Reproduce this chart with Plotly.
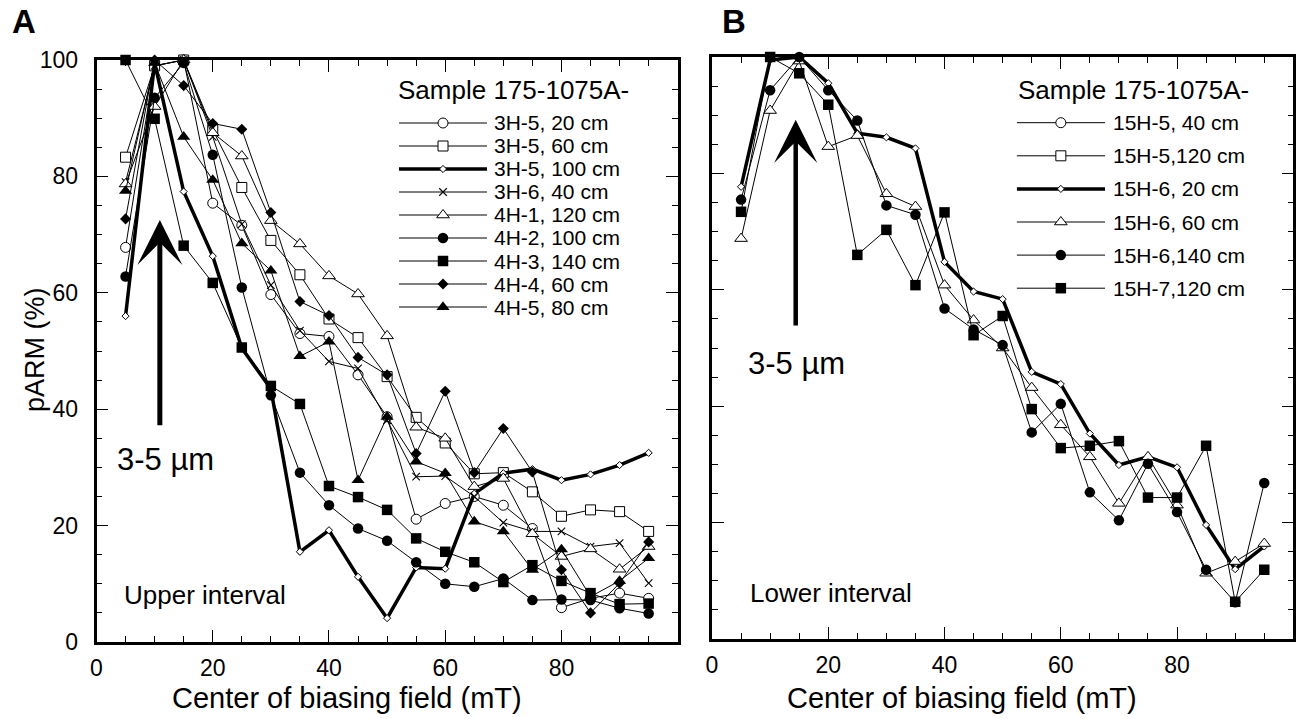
import plotly.graph_objects as go

# ---------------- data ----------------
field = [5, 10, 15, 20, 25, 30, 35, 40, 45, 50, 55, 60, 65, 70, 75, 80, 85, 90, 95]

# Panel A (upper interval), Sample 175-1075A-
a_names = ["3H-5, 20 cm", "3H-5, 60 cm", "3H-5, 100 cm", "3H-6, 40 cm", "4H-1, 120 cm",
           "4H-2, 100 cm", "4H-3, 140 cm", "4H-4, 60 cm", "4H-5, 80 cm"]
a_3H5_20 = [67.8, 99, 100, 75.4, 71.6, 59.7, 53.0, 52.5, 45.9, 38.7, 21.1, 23.8, 25.0, 23.5, 19.5, 5.9, 7.5, 8.4, 7.5]
a_3H5_60 = [83.3, 99, 100, 88.0, 78.1, 69.0, 63.1, 55.5, 52.3, 45.6, 38.6, 34.2, 28.9, 29.1, 25.8, 21.6, 22.7, 22.4, 19.0]
a_3H5_100 = [56.0, 99.5, 77.4, 66.3, 50.5, 43.5, 15.5, 19.2, 11.2, 4.1, 12.8, 12.6, 25.5, 29.0, 29.7, 27.8, 28.8, 30.4, 32.5]
a_3H6_40 = [79.0, 99, 100, 86.8, 71.8, 61.3, 53.5, 48.2, 47.0, 38.1, 28.4, 28.5, 25.0, 20.5, 19.0, 19.0, 16.4, 17.0, 10.1]
a_4H1_120 = [78.7, 92.0, 100, 87.5, 83.5, 72.4, 68.4, 62.9, 59.8, 52.6, 36.9, 35.0, 26.7, 28.1, 18.6, 14.7, 16.0, 12.5, 16.4]
a_4H2_100 = [62.8, 93.5, 99.5, 83.7, 60.9, 42.4, 29.1, 23.5, 19.5, 17.4, 13.7, 10.0, 9.5, 10.9, 7.2, 7.3, 7.2, 5.8, 4.9]
a_4H3_140 = [100, 89.9, 68.1, 61.7, 50.6, 44.0, 40.9, 26.8, 24.9, 22.7, 17.8, 15.5, 13.7, 10.3, 13.2, 10.5, 8.4, 6.5, 6.6]
a_4H4_60 = [72.7, 100, 95.6, 89.1, 88.1, 73.8, 58.5, 56.1, 48.9, 45.9, 32.4, 43.1, 29.1, 36.7, 29.2, 12.4, 5.0, 10.1, 17.2]
a_4H5_80 = [77.5, 99.5, 86.8, 79.4, 68.5, 63.8, 49.1, 51.6, 27.8, 38.7, 31.0, 29.0, 20.7, 19.0, 12.4, 15.9, 7.8, 10.5, 14.4]

# Panel B (lower interval)
b_names = ["15H-5, 40 cm", "15H-5,120 cm", "15H-6, 20 cm", "15H-6, 60 cm", "15H-6,140 cm", "15H-7,120 cm"]
b_15H5_40 = []    # listed in the legend, no points visible in the plot
b_15H5_120 = []   # listed in the legend, no points visible in the plot
b_15H6_20 = [77.7, 99.5, 100, 95.5, 86.9, 86.2, 84.3, 64.8, 59.7, 58.4, 45.9, 43.8, 35.3, 29.9, 31.3, 29.5, 19.6, 12.0, 15.9]
b_15H6_60 = [68.8, 90.8, 99.3, 84.6, 86.5, 76.5, 74.3, 60.8, 54.8, 50.0, 43.2, 36.8, 31.3, 23.3, 31.3, 23.0, 11.3, 13.3, 16.4]
b_15H6_140 = [75.5, 94.3, 100, 94.3, 89.1, 74.5, 72.9, 56.8, 53.2, 50.5, 35.5, 40.4, 25.2, 20.4, 30.1, 21.8, 11.9, 6.3, 26.8]
b_15H7_120 = [73.4, 100, 97.2, 91.8, 66.0, 70.3, 60.8, 73.3, 52.2, 55.5, 39.5, 32.8, 33.2, 34.0, 24.3, 24.3, 33.2, 6.4, 11.9]

x_ticks = [0, 20, 40, 60, 80]
y_ticks = [0, 20, 40, 60, 80, 100]
legend_title = "Sample 175-1075A-"
x_title = "Center of biasing field (mT)"
y_title = "pARM (%)"

FONT = "Liberation Sans, Arial, Helvetica, sans-serif"

OPEN_C = dict(symbol="circle", color="white", size=10, line=dict(color="black", width=1))
OPEN_S = dict(symbol="square", color="white", size=10, line=dict(color="black", width=1))
OPEN_D = dict(symbol="diamond", color="white", size=5.5, line=dict(color="black", width=1))
XMARK = dict(symbol="x-thin-open", color="black", size=7.5, line=dict(color="black", width=1.1))
OPEN_T = dict(symbol="triangle-up", color="white", size=11, line=dict(color="black", width=1))
FILL_C = dict(symbol="circle", color="black", size=10.5, line=dict(color="black", width=0))
FILL_S = dict(symbol="square", color="black", size=10.5, line=dict(color="black", width=0))
FILL_D = dict(symbol="diamond", color="black", size=8.5, line=dict(color="black", width=0))
FILL_T = dict(symbol="triangle-up", color="black", size=11.5, line=dict(color="black", width=0))

W, H = 1301, 719


def px_x(p):
    return p / W


def px_y(p):
    return 1 - p / H


fig = go.Figure()

a_series = [a_3H5_20, a_3H5_60, a_3H5_100, a_3H6_40, a_4H1_120, a_4H2_100, a_4H3_140, a_4H4_60, a_4H5_80]
a_markers = [OPEN_C, OPEN_S, OPEN_D, XMARK, OPEN_T, FILL_C, FILL_S, FILL_D, FILL_T]
a_widths = [1, 1, 3.5, 1, 1, 1, 1, 1, 1]
for name, ys, mk, lw in zip(a_names, a_series, a_markers, a_widths):
    fig.add_trace(go.Scatter(x=field[:len(ys)], y=ys, mode="lines+markers", name=name,
                             line=dict(color="black", width=lw), marker=mk,
                             xaxis="x", yaxis="y", showlegend=False, cliponaxis=False))

b_series = [b_15H5_40, b_15H5_120, b_15H6_20, b_15H6_60, b_15H6_140, b_15H7_120]
b_markers = [OPEN_C, OPEN_S, OPEN_D, OPEN_T, FILL_C, FILL_S]
b_widths = [1, 1, 3.5, 1, 1, 1]
for name, ys, mk, lw in zip(b_names, b_series, b_markers, b_widths):
    if len(ys) == 0:
        continue
    fig.add_trace(go.Scatter(x=field[:len(ys)], y=ys, mode="lines+markers", name=name,
                             line=dict(color="black", width=lw), marker=mk,
                             xaxis="x2", yaxis="y2", showlegend=False, cliponaxis=False))


# ---------- legend keys drawn in their own hidden axes (x3/y3 for A, x4/y4 for B) ----------
def add_legend_keys(names, markers, widths, xa, ya):
    for i, (name, mk, lw) in enumerate(zip(names, markers, widths)):
        fig.add_trace(go.Scatter(x=[0, 1], y=[i, i], mode="lines", line=dict(color="black", width=lw),
                                 xaxis=xa, yaxis=ya, showlegend=False, hoverinfo="skip", cliponaxis=False))
        fig.add_trace(go.Scatter(x=[0.5], y=[i], mode="markers", marker=mk, name=name,
                                 xaxis=xa, yaxis=ya, showlegend=False, hoverinfo="skip", cliponaxis=False))


add_legend_keys(a_names, a_markers, a_widths, "x3", "y3")
add_legend_keys(b_names, b_markers, b_widths, "x4", "y4")

axis_common = dict(showgrid=False, zeroline=False, showline=True, linecolor="black", linewidth=2.5,
                   mirror="allticks", ticks="inside", ticklen=12, tickwidth=1.3, tickcolor="black",
                   automargin=False,
                   minor=dict(ticks="inside", ticklen=6, tickwidth=1.3, tickcolor="black", dtick=5, tick0=0),
                   tickfont=dict(family=FONT, size=23, color="black"))

hidden = dict(visible=False, showgrid=False, zeroline=False, automargin=False, fixedrange=True)

# legend A geometry: key line px 399..487, rows at py 123 + 23*i, title ~1.45 rows above
nA = len(a_names)
rowA0, rowA, titA = 123.0, 23.0, 1.45
# legend B geometry: key line px 1016.7..1105, rows at py 122.7 + 33.1*i, title ~0.98 rows above
nB = len(b_names)
rowB0, rowB, titB = 122.7, 33.1, 0.98

fig.update_layout(
    width=W, height=H, margin=dict(l=0, r=0, t=0, b=0),
    paper_bgcolor="white", plot_bgcolor="rgba(0,0,0,0)",
    font=dict(family=FONT, color="black"),
    showlegend=False,
    xaxis=dict(domain=[px_x(96.5), px_x(677.7)], range=[0, 100], tickvals=x_ticks,
               anchor="y", ticklabelstandoff=4, **axis_common),
    yaxis=dict(domain=[px_y(642), px_y(60)], range=[0, 100], tickvals=y_ticks, anchor="x",
               ticklabelstandoff=11, **axis_common),
    xaxis2=dict(domain=[px_x(712), px_x(1293.3)], range=[0, 100], tickvals=x_ticks,
                anchor="y2", ticklabelstandoff=4, **axis_common),
    yaxis2=dict(domain=[px_y(639), px_y(57)], range=[0, 100], tickvals=y_ticks, anchor="x2",
                showticklabels=False, **axis_common),
    xaxis3=dict(domain=[px_x(399), px_x(487)], range=[0, 1], anchor="y3", **hidden),
    yaxis3=dict(domain=[px_y(rowA0 + rowA * (nA - 0.5)), px_y(rowA0 - rowA * (titA + 0.5))],
                range=[nA - 0.5, -titA - 0.5], anchor="x3", **hidden),
    xaxis4=dict(domain=[px_x(1016.7), px_x(1105)], range=[0, 1], anchor="y4", **hidden),
    yaxis4=dict(domain=[px_y(rowB0 + rowB * (nB - 0.5)), px_y(rowB0 - rowB * (titB + 0.5))],
                range=[nB - 0.5, -titB - 0.5], anchor="x4", **hidden),
)


def paper_text(text, x, y, size, angle=0):
    return dict(text=text, x=px_x(x), y=px_y(y), xref="paper", yref="paper", showarrow=False,
                xanchor="center", yanchor="middle", textangle=angle,
                font=dict(family=FONT, size=size, color="black"))


annotations = [
    paper_text("<b>A</b>", 24, 21, 33),
    paper_text("<b>B</b>", 734, 21, 33),
    paper_text(y_title, 35, 350, 27, -90),
    paper_text(x_title, 347, 698, 29),
    paper_text(x_title, 962, 698, 29),
    dict(text="3-5 µm", x=11.9, y=31.3, xref="x", yref="y", showarrow=False,
         font=dict(family=FONT, size=31, color="black")),
    dict(text="Upper interval", x=18.7, y=8.1, xref="x", yref="y", showarrow=False,
         font=dict(family=FONT, size=26, color="black")),
    dict(text="3-5 µm", x=14.5, y=47.4, xref="x2", yref="y2", showarrow=False,
         font=dict(family=FONT, size=31, color="black")),
    dict(text="Lower interval", x=20.5, y=7.9, xref="x2", yref="y2", showarrow=False,
         font=dict(family=FONT, size=26, color="black")),
    dict(text="", x=10.9, y=72.5, ax=10.9, ay=37, xref="x", yref="y", axref="x", ayref="y",
         showarrow=True, arrowhead=3, arrowwidth=5, arrowsize=1.5, arrowcolor="black"),
    dict(text="", x=14.4, y=89.2, ax=14.4, ay=53.6, xref="x2", yref="y2", axref="x2", ayref="y2",
         showarrow=True, arrowhead=3, arrowwidth=4.5, arrowsize=1.6, arrowcolor="black"),
    # legend titles
    dict(text=legend_title, x=0, y=-titA, xref="x3", yref="y3", xanchor="left", yanchor="middle",
         xshift=-3, showarrow=False, font=dict(family=FONT, size=26, color="black")),
    dict(text=legend_title, x=0, y=-titB, xref="x4", yref="y4", xanchor="left", yanchor="middle",
         xshift=-1, showarrow=False, font=dict(family=FONT, size=26, color="black")),
]
for i, name in enumerate(a_names):
    annotations.append(dict(text=name, x=1, y=i, xref="x3", yref="y3", xanchor="left", yanchor="middle",
                            xshift=5, showarrow=False, font=dict(family=FONT, size=21, color="black")))
for i, name in enumerate(b_names):
    annotations.append(dict(text=name, x=1, y=i, xref="x4", yref="y4", xanchor="left", yanchor="middle",
                            xshift=6, showarrow=False, font=dict(family=FONT, size=21, color="black")))
fig.update_layout(annotations=annotations)

fig.write_html("out.html", config={"displayModeBar": False},
               post_script="document.body.style.margin='0px';document.body.style.padding='0px';")
